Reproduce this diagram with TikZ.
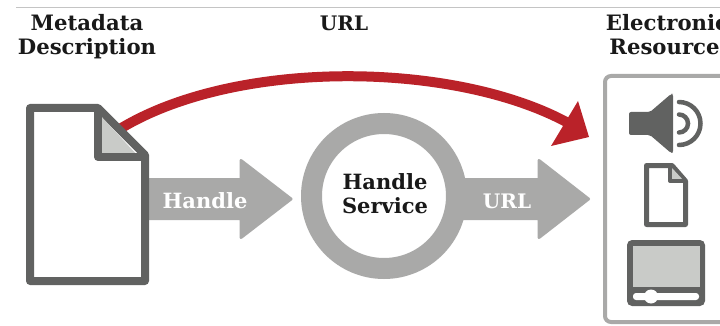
\documentclass[tikz,border=0pt]{standalone}
\usepackage{fontspec}
\setmainfont{DejaVu Serif}
\usetikzlibrary{calc}
\definecolor{dk}{HTML}{616261}
\definecolor{md}{HTML}{A9A9A8}
\definecolor{lt}{HTML}{C9CBC8}
\definecolor{rd}{HTML}{BA2229}
\definecolor{rule}{HTML}{C4C4C4}
\tikzset{
  x=1pt,y=-1pt,
  title/.style={font=\fontsize{21.2}{24}\selectfont\bfseries,text=black!90,anchor=base,inner sep=0pt},
  urltitle/.style={font=\fontsize{20}{24}\selectfont\bfseries,text=black!90,anchor=base,inner sep=0pt},
  svclabel/.style={font=\fontsize{21}{24}\selectfont\bfseries,text=black!90,anchor=base,inner sep=0pt},
  arrowlabel/.style={font=\fontsize{21}{24}\selectfont\bfseries,text=white,anchor=base,inner sep=0pt},
  urllabel/.style={font=\fontsize{20}{24}\selectfont\bfseries,text=white,anchor=base,inner sep=0pt},
  blockarrow/.style={fill=md,draw=md,line width=3pt,line join=round},
  docline/.style={draw=dk,line join=round},
  spk/.style={draw=dk,line width=4.5pt,line cap=round},
}
\begin{document}
\begin{tikzpicture}
\useasboundingbox (0,0) rectangle (720,326);
\clip (0,0) rectangle (720,326);
\fill[white] (0,0) rectangle (720,326);
\draw[rule,line width=0.8pt] (16,7.3) -- (720,7.3);
% red curve
\coordinate (rstart) at (115,132);
\coordinate (rend) at (570,124);
\draw[rd,line width=10pt] (rstart) .. controls (230,58) and (455,60) .. (rend);
\fill[rd] (578,101) -- (589,137) -- (551,146) -- cycle;
% block arrows
\draw[blockarrow] (149,179.5) -- (241,179.5) -- (241,160.5) -- (291,199) -- (241,237.5) -- (241,218.5) -- (149,218.5) -- cycle;
\draw[blockarrow] (460,179.5) -- (539,179.5) -- (539,160.5) -- (588.5,199) -- (539,237.5) -- (539,218.5) -- (460,218.5) -- cycle;
% main document
\draw[docline,fill=white,line width=8pt] (30,108) -- (98,108) -- (145,155) -- (145,281) -- (30,281) -- cycle;
\fill[lt] (100,115) -- (138,156) -- (100,156) -- cycle;
\draw[docline,line width=8pt] (98,108) -- (98,157) -- (145,157);
% service ring
\node[circle,draw=md,line width=21pt,fill=white,minimum size=145pt,inner sep=0pt] (svc) at (384,196) {};
% resource box
\draw[md,line width=4pt,rounded corners=6pt] (605,76) rectangle (740,322);
% speaker
\fill[dk,rounded corners=2pt] (629,112) -- (650,112) -- (671,94) -- (673,94) -- (673,153) -- (671,153) -- (650,135) -- (629,135) -- cycle;
\draw[spk] (679,102) arc (-90:90:21.5);
\draw[spk] (679,114.5) arc (-90:90:9);
% small document
\draw[docline,fill=white,line width=5pt] (646.5,165.5) -- (672,165.5) -- (685.5,181) -- (685.5,224.5) -- (646.5,224.5) -- cycle;
\fill[lt] (672,168) -- (684,181) -- (672,181) -- cycle;
\draw[docline,line width=4pt] (670,166) -- (670,181) -- (686,181);
% monitor
\fill[dk,rounded corners=5pt] (627,240) rectangle (705,306);
\fill[lt] (633,246) rectangle (700,287);
\fill[white,rounded corners=3pt] (633,293) rectangle (699,300);
\fill[white] (651,296.5) circle (7);
% labels
\node[title] (t1) at (87,31) {Metadata};
\node[title] (t2) at (87,55) {Description};
\node[urltitle] (t3) at (344,31) {URL};
\node[title] (t4) at (667,31) {Electronic};
\node[title] (t5) at (664.5,55) {Resource};
\node[svclabel] (s1) at (385,189) {Handle};
\node[svclabel] (s2) at (385,213) {Service};
\node[arrowlabel] (a1) at (205,208) {Handle};
\node[urllabel] (a2) at (507,208) {URL};
\end{tikzpicture}
\end{document}
